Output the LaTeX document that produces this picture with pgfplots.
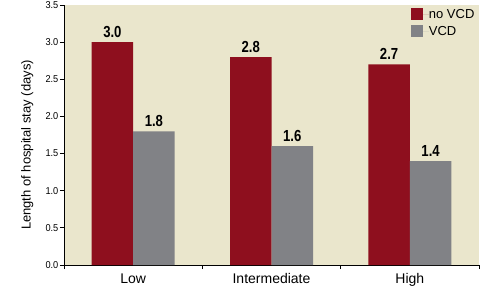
\documentclass[border=0pt]{standalone}
\usepackage{fontspec}
\setmainfont{Liberation Sans}
\newfontfamily\condfont[FakeStretch=0.92]{Liberation Sans}
\newfontfamily\condbold[FakeStretch=0.82]{Liberation Sans Bold}
\usepackage{pgfplots}
\pgfplotsset{compat=1.18}
\definecolor{bgbeige}{RGB}{234,230,204}
\definecolor{barred}{RGB}{142,15,30}
\definecolor{bargray}{RGB}{129,130,134}
\begin{document}
\begin{tikzpicture}
\begin{axis}[
  scale only axis,
  width=415bp, height=260bp,
  xmin=-0.5, xmax=2.5, ymin=0, ymax=3.5,
  axis lines*=left,
  axis line style={black, line width=0.9bp},
  axis background/.style={fill=bgbeige},
  ybar=0pt, bar width=41.5bp,
  xtick={0,1,2},
  xticklabels={Low,Intermediate,High},
  major x tick style={draw=none},
  minor xtick={-0.5,0.5,1.5,2.5},
  minor tick length=4bp,
  major tick length=4bp,
  tick align=outside,
  xtick pos=bottom, ytick pos=left,
  tick style={black, line width=0.8bp},
  ytick={0,0.5,...,3.5},
  yticklabel style={font=\fontsize{10bp}{12bp}\condfont, /pgf/number format/fixed, /pgf/number format/fixed zerofill, /pgf/number format/precision=1, inner sep=1.5bp},
  /pgf/number format/assume math mode=true,
  xticklabel style={font=\fontsize{14bp}{16bp}\selectfont, anchor=base, yshift=-14bp},
  ylabel={Length of hospital stay (days)},
  ylabel style={font=\fontsize{13bp}{15bp}\selectfont, at={(axis description cs:-0.0735,0.4615)}, anchor=south, inner sep=0pt},
  nodes near coords,
  nodes near coords style={font=\fontsize{16bp}{16bp}\condbold, anchor=base, yshift=5bp, /pgf/number format/fixed, /pgf/number format/fixed zerofill, /pgf/number format/precision=1},
  legend style={at={(axis description cs:0.8355,0.988)}, anchor=north west, draw=none, fill=none, font=\fontsize{13bp}{15bp}\selectfont, row sep=5bp, inner sep=0pt, nodes={inner sep=0pt}},
  legend cell align=left,
  legend image code/.code={\fill[#1] (0bp,-6bp) rectangle (12bp,6bp); \path (0bp,0bp) -- (18bp,0bp);},
  clip=false,
]
\addplot[fill=barred, draw=none] coordinates {(0,3.0) (1,2.8) (2,2.7)};
\addplot[fill=bargray, draw=none] coordinates {(0,1.8) (1,1.6) (2,1.4)};
\legend{no VCD, VCD}
\path (rel axis cs:0,0) ++(-64bp,-22bp) coordinate (bbsw);
\end{axis}
\path[use as bounding box] (bbsw) rectangle ++(502bp,287bp);
\end{tikzpicture}
\end{document}
